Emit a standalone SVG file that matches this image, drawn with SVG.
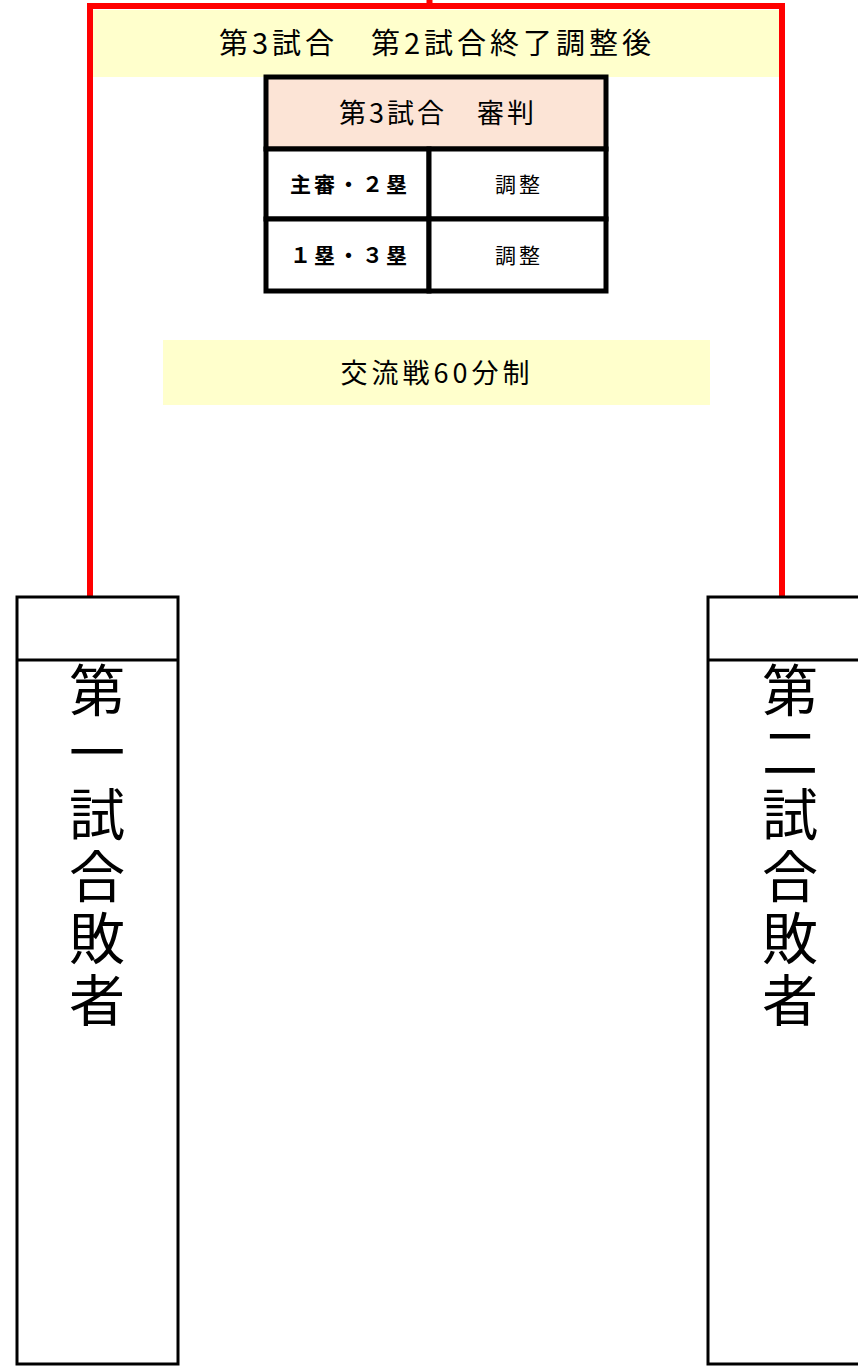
<svg xmlns="http://www.w3.org/2000/svg" width="858" height="1371" viewBox="0 0 858 1371">
<style>
text{font-family:"Noto Sans CJK JP","Noto Sans",sans-serif;fill:#000;text-anchor:middle}
.band{fill:#FFFFCC}
.cell{fill:#fff;stroke:#000;stroke-width:5}
.box{fill:#fff;stroke:#000;stroke-width:3}
.red{fill:none;stroke:#FF0000;stroke-width:6}
.vert{font-size:56px;writing-mode:vertical-rl;text-anchor:start;letter-spacing:6px}
</style>
<rect width="858" height="1371" fill="#fff"/>
<g id="connectors">
<path class="red" d="M90,597 V6 H782 V597"/>
<path class="red" d="M429.5,0 V8"/>
</g>
<g id="header-band">
<rect class="band" x="93" y="10" width="686" height="67"/>
<text x="437" y="54" font-size="29" letter-spacing="4">第3試合　第2試合終了調整後</text>
</g>
<g id="umpire-table">
<rect x="266" y="77" width="340" height="72" fill="#FCE4D6" stroke="#000" stroke-width="5"/>
<text x="438" y="123" font-size="27" letter-spacing="3">第3試合　審判</text>
<rect class="cell" x="266" y="149" width="163" height="70"/>
<rect class="cell" x="429" y="149" width="177" height="70"/>
<rect class="cell" x="266" y="219" width="163" height="72"/>
<rect class="cell" x="429" y="219" width="177" height="72"/>
<text x="350" y="192" font-size="21" font-weight="bold" letter-spacing="3">主審・２塁</text>
<text x="519" y="192" font-size="21" letter-spacing="3">調整</text>
<text x="350" y="263" font-size="21" font-weight="bold" letter-spacing="3">１塁・３塁</text>
<text x="519" y="263" font-size="21" letter-spacing="3">調整</text>
</g>
<g id="exchange-band">
<rect class="band" x="163" y="340" width="547" height="65"/>
<text x="437" y="383" font-size="27" letter-spacing="4">交流戦60分制</text>
</g>
<g id="loser1">
<rect class="box" x="17" y="597" width="161" height="767"/>
<line x1="17" y1="660" x2="178" y2="660" stroke="#000" stroke-width="3"/>
<text class="vert" x="97" y="662">第一試合敗者</text>
</g>
<g id="loser2">
<rect class="box" x="708" y="597" width="160" height="767"/>
<line x1="708" y1="660" x2="858" y2="660" stroke="#000" stroke-width="3"/>
<text class="vert" x="790" y="662">第二試合敗者</text>
</g>
</svg>
